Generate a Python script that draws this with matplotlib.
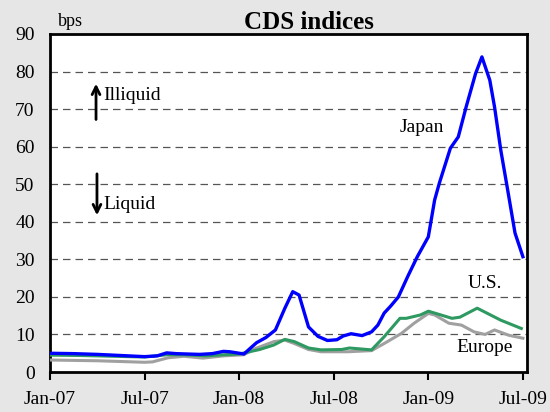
import matplotlib.pyplot as plt

plt.rcParams['font.family'] = ['Liberation Serif', 'DejaVu Serif']

# months since Jan-07
jp_x = [0, 1.5, 3, 4.5, 6, 6.8, 7.4, 8, 8.7, 9.5, 10.3, 11, 11.4, 12.3, 13.1, 13.7,
        14.3, 14.9, 15.4, 15.8, 16.4, 17.0, 17.6, 18.2, 18.6, 19.1, 19.8, 20.4, 20.8,
        21.2, 21.6, 22.1, 22.7, 23.3, 24.0, 24.4, 24.7, 25.4, 25.9, 26.4, 27.0, 27.4,
        27.9, 28.2, 28.6, 29.0, 29.5, 30.0]
japan = [5.0, 4.9, 4.7, 4.4, 4.1, 4.3, 5.1, 4.9, 4.8, 4.7, 4.9, 5.5, 5.4, 4.8, 7.8, 9.2,
         11.2, 17.0, 21.4, 20.5, 12.0, 9.5, 8.4, 8.6, 9.6, 10.2, 9.7, 10.7, 12.5,
         15.7, 17.5, 20.0, 25.5, 30.7, 36.0, 45.8, 50.3, 59.6, 62.6, 70.6, 79.5, 83.9,
         77.7, 70.6, 59.0, 49.3, 37.0, 30.7]

us_x = [0, 2, 4, 6, 7.4, 8.5, 9.9, 11, 12, 13.3, 14.2, 14.9, 15.5, 16.4, 17.2, 18.5,
        19.0, 20.4, 21.2, 22.2, 22.6, 23.5, 24.0, 24.4, 25.5, 26.0, 27.1, 28.6, 29.9]
us = [4.5, 4.4, 4.2, 4.0, 4.6, 4.6, 4.3, 4.6, 4.8, 6.0, 7.2, 8.7, 8.1, 6.4, 5.9, 6.0,
      6.4, 5.9, 9.4, 14.3, 14.3, 15.2, 16.2, 15.7, 14.3, 14.6, 17.0, 13.8, 11.6]

eu_x = [0, 3, 6, 6.5, 7.5, 8.5, 9.7, 11, 12.3, 13.0, 14.2, 14.9, 15.5, 16.4, 17.2,
        18.9, 20.4, 21.2, 22.3, 23.1, 24.0, 24.4, 25.3, 26.1, 26.9, 27.6, 28.2, 29.1, 30.0]
europe = [3.2, 3.0, 2.6, 2.7, 3.8, 4.2, 3.7, 4.3, 4.6, 6.2, 8.1, 8.5, 7.6, 6.0, 5.4,
          5.4, 5.7, 7.6, 10.3, 13.0, 15.6, 15.2, 13.0, 12.5, 10.7, 10.0, 11.2, 9.8, 9.0]

xticks = [0, 6, 12, 18, 24, 30]
xlabels = ['Jan-07', 'Jul-07', 'Jan-08', 'Jul-08', 'Jan-09', 'Jul-09']

fig = plt.figure(figsize=(5.5, 4.12), dpi=100, facecolor='#e6e6e6')
ax = fig.add_axes([0.0909, 0.097, 0.867, 0.8205])
ax.set_facecolor('white')

for y in range(10, 90, 10):
    ax.axhline(y, color='#555555', lw=0.9, dashes=(6, 4), zorder=1)

ax.plot(eu_x, europe, color='#a0a0a0', lw=2.2, zorder=3)
ax.plot(us_x, us, color='#2e9960', lw=2.2, zorder=3)
ax.plot(jp_x, japan, color='#0000ff', lw=2.4, zorder=4)

ax.set_xlim(0, 30.25)
ax.set_ylim(0, 90)
ax.set_yticks(range(0, 100, 10))
ax.set_xticks(xticks)
ax.set_xticklabels(xlabels)
ax.tick_params(axis='x', length=6, width=1.5, direction='out', pad=8, labelsize=14)
ax.tick_params(axis='y', length=0, pad=11, labelsize=14)
for s in ax.spines.values():
    s.set_linewidth(2)

ax.set_title('CDS indices', fontsize=18, fontweight='bold', x=0.542, pad=3)
fig.text(0.129, 0.949, 'bps', fontsize=13, ha='center', va='center')

ax.text(23.6, 65, 'Japan', fontsize=14, ha='center', va='center')
ax.text(27.6, 23.7, 'U.S.', fontsize=14, ha='center', va='center')
ax.text(27.6, 6.4, 'Europe', fontsize=14, ha='center', va='center')
ax.annotate('', xy=(2.92, 77.5), xytext=(2.92, 66.5),
            arrowprops=dict(arrowstyle='->', lw=2, color='black', mutation_scale=14))
ax.text(3.35, 73.5, 'Illiquid', fontsize=14, ha='left', va='center')
ax.annotate('', xy=(2.98, 41), xytext=(2.98, 53.5),
            arrowprops=dict(arrowstyle='->', lw=2, color='black', mutation_scale=14))
ax.text(3.4, 44.5, 'Liquid', fontsize=14, ha='left', va='center')

fig.savefig('out.png', dpi=100, facecolor=fig.get_facecolor())
